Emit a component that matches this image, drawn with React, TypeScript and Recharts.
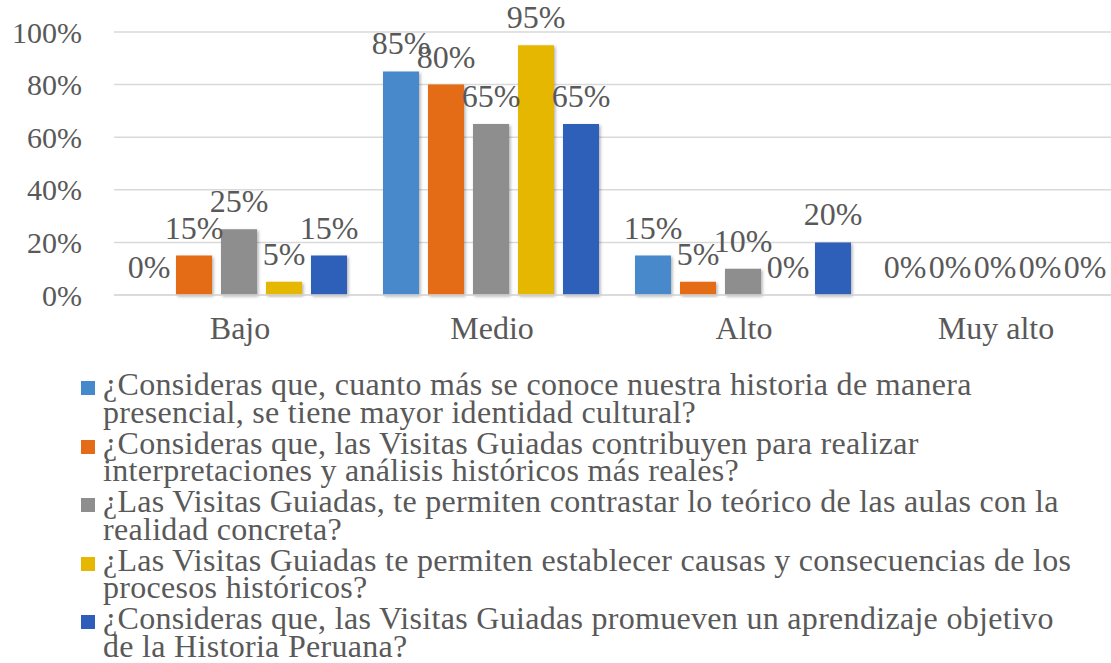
import { BarChart, Bar, XAxis, YAxis, CartesianGrid, Legend, LabelList } from 'recharts'

const CATEGORIES = ['Bajo', 'Medio', 'Alto', 'Muy alto']

const Q1 = [0, 85, 15, 0]
const Q2 = [15, 80, 5, 0]
const Q3 = [25, 65, 10, 0]
const Q4 = [5, 95, 0, 0]
const Q5 = [15, 65, 20, 0]

const Y_TICKS = [0, 20, 40, 60, 80, 100]

const SERIES_KEYS = ['q1', 'q2', 'q3', 'q4', 'q5']
const SERIES_NAMES = [
  '¿Consideras que, cuanto más se conoce nuestra historia de manera\npresencial, se tiene mayor identidad cultural?',
  '¿Consideras que, las Visitas Guiadas contribuyen para realizar\ninterpretaciones y análisis históricos más reales?',
  '¿Las Visitas Guiadas, te permiten contrastar lo teórico de las aulas con la\nrealidad concreta?',
  '¿Las Visitas Guiadas te permiten establecer causas y consecuencias de los\nprocesos históricos?',
  '¿Consideras que, las Visitas Guiadas promueven un aprendizaje objetivo\nde la Historia Peruana?'
]
const SERIES_COLORS = ['#4689ca', '#e46c18', '#8e8e8e', '#e6b700', '#2e5eb9']

const data = CATEGORIES.map((category, i) => ({
  category,
  q1: Q1[i],
  q2: Q2[i],
  q3: Q3[i],
  q4: Q4[i],
  q5: Q5[i]
}))

const FONT = '"Liberation Serif", Tinos, "Times New Roman", "DejaVu Serif", serif'
const TEXT = '#595959'

function LegendContent(props: any) {
  const items = [...(props.payload || [])].sort(
    (a: any, b: any) => SERIES_KEYS.indexOf(a.dataKey) - SERIES_KEYS.indexOf(b.dataKey)
  )
  return (
    <div style={{ fontFamily: FONT, fontSize: 32, letterSpacing: 0.3, lineHeight: '27.5px', color: TEXT }}>
      {items.map((item: any) => (
        <div key={item.dataKey} style={{ display: 'flex', alignItems: 'flex-start', marginBottom: 3.6 }}>
          <span
            style={{
              display: 'inline-block',
              width: 14,
              height: 14,
              marginTop: 10,
              marginRight: 8,
              background: item.color,
              flexShrink: 0
            }}
          />
          <span style={{ whiteSpace: 'pre-line' }}>{item.value}</span>
        </div>
      ))}
    </div>
  )
}

export default function App() {
  return (
    <div style={{ position: 'fixed', left: 0, top: 0, width: 1111, height: 663, overflow: 'hidden', background: '#fff', fontFamily: FONT }}>
      <BarChart
        width={1130}
        height={663}
        data={data}
        margin={{ top: 32, right: 8, left: 0, bottom: 308 }}
        barCategoryGap={17}
        barGap={9}
        style={{ fontFamily: FONT }}
      >
        <defs>
          <filter id="barShadow" x="-20%" y="-20%" width="140%" height="140%">
            <feDropShadow dx="1.5" dy="1.5" stdDeviation="1.5" floodColor="#000" floodOpacity="0.3" />
          </filter>
        </defs>
        <CartesianGrid vertical={false} stroke="#d9d9d9" strokeWidth={1.5} />
        <XAxis
          dataKey="category"
          interval={0}
          height={60}
          axisLine={{ stroke: '#d9d9d9', strokeWidth: 1.5 }}
          tickLine={false}
          tickSize={0}
          tickMargin={21}
          tick={{ fill: TEXT, fontSize: 32, fontFamily: FONT }}
        />
        <YAxis
          domain={[0, 100]}
          ticks={Y_TICKS}
          interval={0}
          width={114}
          axisLine={false}
          tickLine={false}
          tickSize={0}
          tickMargin={32}
          tickFormatter={(v) => `${v}%`}
          tick={{ fill: TEXT, fontSize: 30, fontFamily: FONT }}
        />
        <Legend
          layout="horizontal"
          verticalAlign="middle"
          content={LegendContent}
          wrapperStyle={{ top: 371, left: 81, width: 1030 }}
        />
        {SERIES_KEYS.map((key, i) => (
          <Bar
            key={key}
            dataKey={key}
            name={SERIES_NAMES[i]}
            fill={SERIES_COLORS[i]}
            filter="url(#barShadow)"
            minPointSize={0.01}
            isAnimationActive={false}
          >
            <LabelList
              dataKey={key}
              position="top"
              offset={17}
              formatter={(v: any) => `${v}%`}
              fill={TEXT}
              fontSize={32}
              fontFamily={FONT}
            />
          </Bar>
        ))}
      </BarChart>
    </div>
  )
}
